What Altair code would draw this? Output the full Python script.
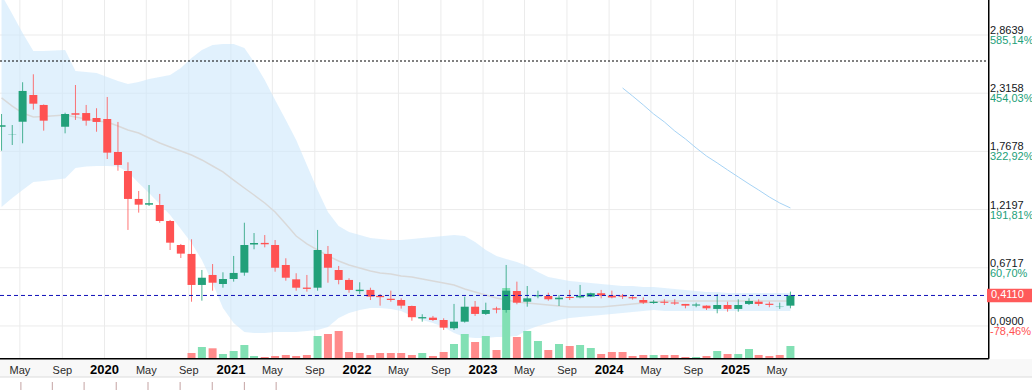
import altair as alt
import pandas as pd

# ---------------- data ----------------
months = ["2019-03", "2019-04", "2019-05", "2019-06", "2019-07", "2019-09", "2019-10", "2019-11", "2019-12",
          "2020-01", "2020-02", "2020-03", "2020-04", "2020-05", "2020-06", "2020-07", "2020-08", "2020-09", "2020-10", "2020-11", "2020-12",
          "2021-01", "2021-02", "2021-03", "2021-04", "2021-05", "2021-06", "2021-07", "2021-08", "2021-09", "2021-10", "2021-11", "2021-12",
          "2022-01", "2022-02", "2022-03", "2022-04", "2022-05", "2022-06", "2022-07", "2022-08", "2022-09", "2022-10", "2022-11", "2022-12",
          "2023-01", "2023-02", "2023-03", "2023-04", "2023-05", "2023-06", "2023-07", "2023-08", "2023-09", "2023-10", "2023-11", "2023-12",
          "2024-01", "2024-02", "2024-03", "2024-04", "2024-05", "2024-06", "2024-07", "2024-08", "2024-09", "2024-10", "2024-11", "2024-12",
          "2025-01", "2025-02", "2025-03", "2025-04", "2025-05", "2025-06"]

opens = [2.000, 1.925, 2.047, 2.299, 2.205, 2.000, 2.127, 2.129, 2.082,
         2.073, 1.762, 1.583, 1.320, 1.266, 1.263, 1.112, 0.886, 0.802, 0.510, 0.604, 0.519,
         0.566, 0.626, 0.890, 0.906, 0.886, 0.698, 0.563, 0.485, 0.484, 0.802, 0.651, 0.557,
         0.452, 0.463, 0.407, 0.380, 0.368, 0.312, 0.195, 0.202, 0.180, 0.102, 0.164, 0.305,
         0.237, 0.289, 0.274, 0.453, 0.352, 0.403, 0.406, 0.375, 0.397, 0.393, 0.400, 0.432,
         0.410, 0.410, 0.395, 0.368, 0.340, 0.352, 0.345, 0.331, 0.316, 0.315, 0.284, 0.321,
         0.284, 0.331, 0.352, 0.333, 0.302, 0.315]
highs = [2.120, 2.016, 2.419, 2.494, 2.210, 2.132, 2.393, 2.205, 2.174,
         2.280, 2.045, 1.665, 1.395, 1.451, 1.367, 1.122, 0.896, 0.940, 0.651, 0.707, 0.629,
         0.783, 1.096, 0.999, 0.980, 0.933, 0.761, 0.620, 0.604, 1.028, 0.877, 0.689, 0.573,
         0.535, 0.484, 0.425, 0.456, 0.384, 0.315, 0.234, 0.218, 0.196, 0.331, 0.400, 0.359,
         0.343, 0.305, 0.698, 0.541, 0.500, 0.456, 0.437, 0.415, 0.463, 0.510, 0.437, 0.463,
         0.456, 0.425, 0.405, 0.393, 0.368, 0.375, 0.375, 0.331, 0.343, 0.318, 0.425, 0.352,
         0.375, 0.384, 0.375, 0.352, 0.343, 0.447]
lows = [1.774, 1.828, 1.844, 2.161, 1.963, 1.938, 2.064, 2.010, 1.953,
        1.696, 1.586, 1.028, 1.191, 1.254, 1.096, 0.839, 0.764, 0.352, 0.362, 0.456, 0.484,
        0.541, 0.597, 0.846, 0.864, 0.635, 0.550, 0.456, 0.447, 0.456, 0.531, 0.516, 0.437,
        0.425, 0.368, 0.315, 0.352, 0.287, 0.173, 0.164, 0.171, 0.086, 0.086, 0.155, 0.218,
        0.227, 0.243, 0.249, 0.328, 0.305, 0.384, 0.362, 0.312, 0.368, 0.384, 0.395, 0.384,
        0.384, 0.378, 0.372, 0.331, 0.331, 0.321, 0.321, 0.290, 0.300, 0.274, 0.243, 0.258,
        0.258, 0.321, 0.312, 0.300, 0.284, 0.290]
closes = [2.015, 1.928, 2.337, 2.217, 2.057, 2.120, 2.113, 2.057, 2.045,
          1.756, 1.640, 1.320, 1.266, 1.280, 1.112, 0.908, 0.805, 0.510, 0.578, 0.531, 0.566,
          0.623, 0.886, 0.905, 0.893, 0.672, 0.578, 0.484, 0.473, 0.839, 0.672, 0.557, 0.463,
          0.465, 0.400, 0.395, 0.368, 0.315, 0.206, 0.207, 0.180, 0.108, 0.164, 0.305, 0.237,
          0.274, 0.278, 0.456, 0.343, 0.384, 0.413, 0.375, 0.390, 0.387, 0.408, 0.432, 0.410,
          0.392, 0.400, 0.384, 0.343, 0.352, 0.342, 0.335, 0.315, 0.326, 0.290, 0.321, 0.284,
          0.321, 0.359, 0.331, 0.322, 0.305, 0.411]

volumes = [0, 0, 0, 0, 0, 0, 0, 0, 0,
           0, 0, 0, 0, 0, 0, 0, 0, 50, 110, 97, 40,
           70, 130, 20, 10, 20, 30, 20, 30, 220, 240, 270, 60,
           50, 30, 50, 50, 50, 30, 50, 20, 60, 140, 240, 160,
           220, 80, 700, 210, 270, 170, 80, 140, 120, 130, 100, 40,
           60, 60, 20, 30, 30, 30, 30, 10, 10, 20, 70, 40,
           40, 90, 30, 20, 30, 120]
vol_dir = ["up"] * 9 + \
          ["down"] * 8 + ["down", "up", "down", "up"] + \
          ["up", "up", "up", "down", "down", "down", "down", "down", "up", "down", "down", "down"] + \
          ["down", "down", "down", "down", "down", "down", "up", "down", "down", "up", "up", "down"] + \
          ["up", "down", "up", "down", "up", "up", "down", "up", "down", "up", "up", "down"] + \
          ["down", "down", "down", "down", "up", "down", "down", "down", "up", "down", "up", "down"] + \
          ["up", "up", "down", "down", "down", "up"]

bb_upper = [3.241, 3.062, 2.883, 2.713, 2.713, 2.723, 2.525, 2.515, 2.506,
            2.468, 2.431, 2.402, 2.421, 2.450, 2.468, 2.487, 2.553, 2.647, 2.723, 2.770, 2.779,
            2.779, 2.741, 2.610, 2.440, 2.252, 2.063, 1.875, 1.640, 1.404, 1.197, 1.065, 1.009,
            0.981, 0.952, 0.943, 0.933, 0.933, 0.943, 0.952, 0.962, 0.971, 0.981, 0.971, 0.915,
            0.839, 0.783, 0.754, 0.726, 0.689, 0.632, 0.585, 0.566, 0.547, 0.538, 0.528, 0.519,
            0.510, 0.500, 0.500, 0.491, 0.491, 0.481, 0.472, 0.463, 0.453, 0.444, 0.444, 0.434,
            0.434, 0.434, 0.434, 0.434, 0.434, 0.434]
bb_lower = [1.244, 1.329, 1.404, 1.480, 1.489, 1.513, 1.611, 1.626, 1.630,
            1.630, 1.626, 1.574, 1.470, 1.376, 1.272, 1.169, 1.037, 0.905, 0.745, 0.529, 0.293,
            0.152, 0.067, 0.058, 0.058, 0.067, 0.067, 0.067, 0.076, 0.086, 0.114, 0.199, 0.246,
            0.274, 0.293, 0.293, 0.284, 0.265, 0.218, 0.180, 0.152, 0.114, 0.058, 0.020, 0.011,
            0.011, 0.020, 0.020, 0.029, 0.086, 0.124, 0.152, 0.180, 0.199, 0.208, 0.218, 0.227,
            0.237, 0.246, 0.256, 0.265, 0.274, 0.265, 0.265, 0.265, 0.265, 0.265, 0.265, 0.265,
            0.265, 0.265, 0.265, 0.265, 0.265, 0.265]
bb_mid = [2.271, 2.195, 2.129, 2.092, 2.096, 2.111, 2.092, 2.073, 2.054,
          2.045, 2.007, 1.969, 1.941, 1.894, 1.847, 1.809, 1.772, 1.734, 1.687, 1.630, 1.574,
          1.498, 1.423, 1.357, 1.282, 1.197, 1.084, 0.971, 0.896, 0.839, 0.783, 0.736, 0.698,
          0.670, 0.641, 0.622, 0.613, 0.594, 0.585, 0.566, 0.547, 0.528, 0.510, 0.472, 0.444,
          0.415, 0.387, 0.368, 0.350, 0.340, 0.331, 0.321, 0.312, 0.302, 0.302, 0.302, 0.302,
          0.312, 0.321, 0.331, 0.340, 0.350, 0.359, 0.359, 0.359, 0.359, 0.359, 0.359, 0.359,
          0.359, 0.359, 0.359, 0.359, 0.359, 0.359]

ind_months = ["2024-02", "2024-03", "2024-04", "2024-05", "2024-06", "2024-07", "2024-08", "2024-09",
              "2024-10", "2024-11", "2024-12", "2025-01", "2025-02", "2025-03", "2025-04", "2025-05", "2025-06"]
ind_values = [2.365, 2.289, 2.205, 2.120, 2.045, 1.960, 1.885, 1.800,
              1.724, 1.659, 1.593, 1.527, 1.461, 1.404, 1.338, 1.282, 1.235]

grid_vals = [2.8639, 2.3158, 1.7678, 1.2197, 0.6717, 0.1237]
price_labels = ["2,8639", "2,3158", "1,7678", "1,2197", "0,6717", "0,0900"]
pct_labels = ["585,14%", "454,03%", "322,92%", "191,81%", "60,70%", "-78,46%"]
pct_dir = ["up", "up", "up", "up", "up", "down"]

tick_months = ["2019-05", "2019-09", "2020-01", "2020-05", "2020-09", "2021-01", "2021-05", "2021-09",
               "2022-01", "2022-05", "2022-09", "2023-01", "2023-05", "2023-09", "2024-01", "2024-05",
               "2024-09", "2025-01", "2025-05"]
tick_labels = ["May", "Sep", "2020", "May", "Sep", "2021", "May", "Sep",
               "2022", "May", "Sep", "2023", "May", "Sep", "2024", "May",
               "Sep", "2025", "May"]
tick_kind = ["m", "m", "y", "m", "m", "y", "m", "m", "y", "m", "m", "y", "m", "m", "y", "m", "m", "y", "m"]
event_dates = ["2019-05-04", "2019-08-03", "2019-11-03", "2020-02-04", "2020-05-06", "2020-08-07",
               "2020-11-08", "2021-02-09", "2021-05-12"]

last_price = 0.4110
last_label = "0,4110"
ceiling_level = 2.619

# ---------------- style ----------------
GREEN = "#22a079"
RED = "#ff5252"
VOL_GREEN = "#82e0b4"
VOL_RED = "#ff8b8b"
GRID = "#ebebeb"
FONT = "Arial"
BAR_DAY = "-09"
W, H = 988, 358

df = pd.DataFrame({
    "date": [m + BAR_DAY for m in months],
    "o": opens, "h": highs, "l": lows, "c": closes,
    "vol": volumes, "vdir": vol_dir,
    "upper": bb_upper, "lower": bb_lower, "mid": bb_mid,
})
ind_df = pd.DataFrame({"date": [m + BAR_DAY for m in ind_months], "v": ind_values})
grid_df = pd.DataFrame({"val": grid_vals, "price": price_labels, "pct": pct_labels, "pdir": pct_dir})
tick_df = pd.DataFrame({"date": [m + "-01" for m in tick_months], "lab": tick_labels, "kind": tick_kind})
event_df = pd.DataFrame({"date": event_dates})
last_df = pd.DataFrame({"p": [last_price], "lab": [last_label]})
one = pd.DataFrame({"k": [0]})

xscale = alt.Scale(type="utc", nice=False, padding=0,
                   domain=[alt.DateTime(year=2019, month=3, date=4, hours=12, utc=True),
                           alt.DateTime(year=2027, month=1, date=2, utc=True)])


def X(field="date"):
    return alt.X(f"{field}:T", scale=xscale, axis=None)


yscale = alt.Scale(domain=[-0.178, 3.1935], nice=False, zero=False, padding=0)


def Y(field):
    return alt.Y(f"{field}:Q", scale=yscale, axis=None)


# ---------- background / grid ----------
axis_band = alt.Chart(one).mark_rect(color="#f8f8f8").encode(
    x=alt.value(0), x2=alt.value(1032), y=alt.value(359), y2=alt.value(377))
axis_band_line = alt.Chart(one).mark_rule(color="#dcdcdc", strokeWidth=1).encode(
    x=alt.value(0), x2=alt.value(1032), y=alt.value(377))
vgrid = alt.Chart(tick_df).mark_rule(color=GRID, strokeWidth=1).encode(
    x=X(), y=alt.value(0), y2=alt.value(H))
hgrid = alt.Chart(grid_df).mark_rule(color=GRID, strokeWidth=1).encode(
    y=Y("val"), x=alt.value(0), x2=alt.value(W))

band = alt.Chart(df).mark_area(color="#cde8fc", opacity=0.6, clip=True).encode(
    x=X(), y=Y("upper"), y2="lower:Q")
mid = alt.Chart(df).mark_line(color="#d9d9d9", strokeWidth=1.5, clip=True).encode(x=X(), y=Y("mid"))

bg_group = alt.layer(axis_band, axis_band_line, vgrid, hgrid, band, mid)

# ---------- volume ----------
vol = alt.Chart(df).transform_calculate(
    col=f"datum.vdir === 'up' ? '{VOL_GREEN}' : '{VOL_RED}'"
).mark_bar(width=8).encode(
    x=X(),
    y=alt.Y("vol:Q", scale=alt.Scale(domain=[0, 3580], nice=False, padding=0), axis=None),
    color=alt.Color("col:N", scale=None),
)

# ---------- candles & overlays ----------
cand = alt.Chart(df).transform_calculate(
    col=f"datum.c >= datum.o ? '{GREEN}' : '{RED}'"
)
wicks = cand.mark_rule(strokeWidth=1, opacity=0.8).encode(
    x=X(), y=Y("l"), y2="h:Q", color=alt.Color("col:N", scale=None))
bodies = cand.mark_bar(width=8).encode(
    x=X(), y=Y("o"), y2="c:Q", color=alt.Color("col:N", scale=None))

ind_line = alt.Chart(ind_df).mark_line(color="#a6d3f5", strokeWidth=1).encode(x=X(), y=Y("v"))

ceiling = alt.Chart(one).mark_rule(color="#000000", strokeDash=[2, 2], strokeWidth=1).encode(
    y=alt.Y(datum=ceiling_level, scale=yscale, axis=None), x=alt.value(0), x2=alt.value(W))
last_line = alt.Chart(one).mark_rule(color="#1010b8", strokeDash=[4, 3], strokeWidth=1).encode(
    y=alt.Y(datum=last_price, scale=yscale, axis=None), x=alt.value(0), x2=alt.value(W))

# frame (bottom and right borders)
frame_bottom = alt.Chart(one).mark_rule(color="#000000", strokeWidth=1.5).encode(
    x=alt.value(0), x2=alt.value(W + 0.75), y=alt.value(H + 0.75))
frame_right = alt.Chart(one).mark_rule(color="#000000", strokeWidth=1.5).encode(
    x=alt.value(W + 0.75), y=alt.value(0), y2=alt.value(H + 0.75))

# x labels
month_lab = alt.Chart(tick_df).transform_filter("datum.kind === 'm'").mark_text(
    align="center", baseline="alphabetic", fontSize=11, font=FONT, color="#2a2a2a").encode(
    x=X(), y=alt.value(373.5), text="lab:N")
year_lab = alt.Chart(tick_df).transform_filter("datum.kind === 'y'").mark_text(
    align="center", baseline="alphabetic", fontSize=13, fontWeight="bold", font=FONT,
    color="#000000").encode(
    x=X(), y=alt.value(373.5), text="lab:N")

events = alt.Chart(event_df).mark_rule(color="#c4a3a3", strokeWidth=1).encode(
    x=X(), y=alt.value(382), y2=alt.value(390))

price_txt = alt.Chart(grid_df).mark_text(align="left", baseline="alphabetic", dy=-1, fontSize=11,
                                        font=FONT, color="#131722").encode(
    x=alt.value(990), y=Y("val"), text="price:N")
pct_txt = alt.Chart(grid_df).transform_calculate(
    col=f"datum.pdir === 'up' ? '{GREEN}' : '{RED}'"
).mark_text(align="left", baseline="alphabetic", dy=9, fontSize=11, font=FONT).encode(
    x=alt.value(990), y=Y("val"), text="pct:N", color=alt.Color("col:N", scale=None))

BOX = "M-1,-0.3L1,-0.3L1,0.3L-1,0.3Z"
price_box = alt.Chart(last_df).mark_point(shape=BOX, size=45 * 45, filled=True, opacity=1,
                                          color="#ff5a5a", strokeWidth=0).encode(
    x=alt.value(1009.5), y=Y("p"))
price_box_txt = alt.Chart(last_df).mark_text(align="left", baseline="middle", fontSize=11, font=FONT,
                                            color="#ffffff").encode(
    x=alt.value(991), y=Y("p"), text="lab:N")

fg_group = alt.layer(wicks, bodies, ind_line, ceiling, last_line, frame_bottom, frame_right,
                     month_lab, year_lab, events, price_txt, pct_txt, price_box, price_box_txt)

chart = alt.layer(bg_group, vol, fg_group).resolve_scale(y="independent").properties(
    width=W, height=H,
    autosize=alt.AutoSizeParams(type="none"),
    padding={"left": 0, "top": 0, "right": 44, "bottom": 32},
    background="#ffffff",
).configure_view(stroke=None)

chart.save("out.html", embed_options={"renderer": "svg", "actions": False})
